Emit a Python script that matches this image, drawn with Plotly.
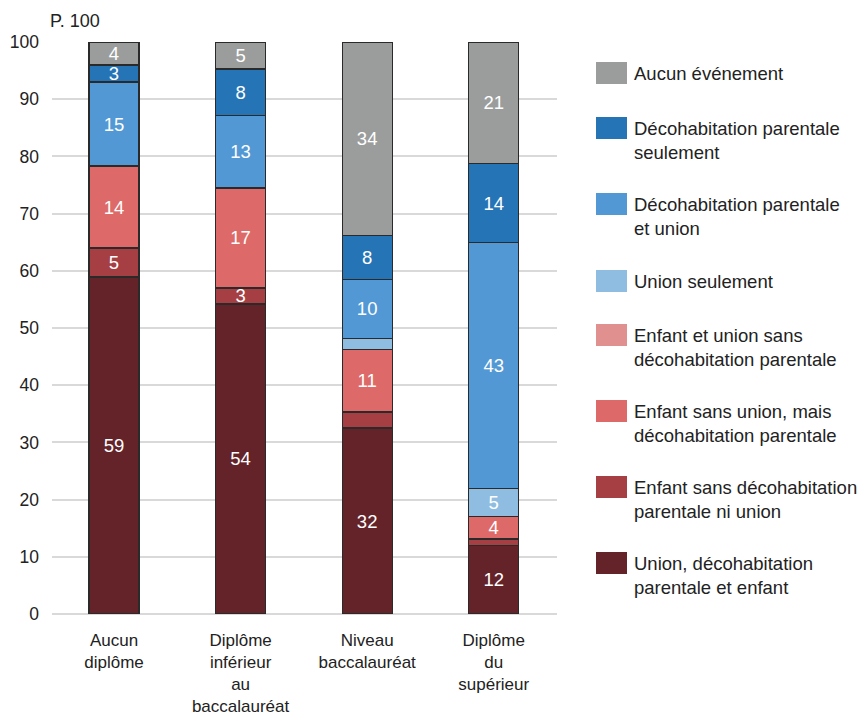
import plotly.graph_objects as go

categories = ["Aucun<br>diplôme", "Diplôme<br>inférieur<br>au<br>baccalauréat",
              "Niveau<br>baccalauréat", "Diplôme<br>du<br>supérieur"]

# series listed bottom -> top of the stack
series_names = [
    "Union, décohabitation parentale et enfant",
    "Enfant sans décohabitation parentale ni union",
    "Enfant sans union, mais décohabitation parentale",
    "Enfant et union sans décohabitation parentale",
    "Union seulement",
    "Décohabitation parentale et union",
    "Décohabitation parentale seulement",
    "Aucun événement",
]
legend_labels = [
    "Union, décohabitation<br>parentale et enfant",
    "Enfant sans décohabitation<br>parentale ni union",
    "Enfant sans union, mais<br>décohabitation parentale",
    "Enfant et union sans<br>décohabitation parentale",
    "Union seulement",
    "Décohabitation parentale<br>et union",
    "Décohabitation parentale<br>seulement",
    "Aucun événement",
]
colors = ["#632328", "#a53f43", "#dd6a68", "#e0918f",
          "#8fbde2", "#5298d4", "#2574b5", "#9b9d9d"]

union_decoh_enfant = [58.9, 54.2, 32.5, 12.0]
enfant_sans_decoh = [5.1, 2.8, 2.8, 1.1]
enfant_sans_union = [14.3, 17.5, 11.0, 4.0]
enfant_union_sans_decoh = [0, 0, 0, 0]
union_seulement = [0, 0, 1.9, 4.8]
decoh_et_union = [14.7, 12.6, 10.3, 43.0]
decoh_seulement = [3.0, 8.2, 7.7, 13.9]
aucun_evenement = [4.0, 4.7, 33.8, 21.2]

labels_union_decoh_enfant = ["59", "54", "32", "12"]
labels_enfant_sans_decoh = ["5", "3", "", ""]
labels_enfant_sans_union = ["14", "17", "11", "4"]
labels_enfant_union_sans_decoh = ["", "", "", ""]
labels_union_seulement = ["", "", "", "5"]
labels_decoh_et_union = ["15", "13", "10", "43"]
labels_decoh_seulement = ["3", "8", "8", "14"]
labels_aucun_evenement = ["4", "5", "34", "21"]

values = [union_decoh_enfant, enfant_sans_decoh, enfant_sans_union,
          enfant_union_sans_decoh, union_seulement, decoh_et_union,
          decoh_seulement, aucun_evenement]
texts = [labels_union_decoh_enfant, labels_enfant_sans_decoh,
         labels_enfant_sans_union, labels_enfant_union_sans_decoh,
         labels_union_seulement, labels_decoh_et_union,
         labels_decoh_seulement, labels_aucun_evenement]

y_ticks = [0, 10, 20, 30, 40, 50, 60, 70, 80, 90, 100]

FONT = "Liberation Sans, Arial, sans-serif"

fig = go.Figure()
for name, vals, txt, col in zip(series_names, values, texts, colors):
    fig.add_trace(go.Bar(
        x=categories, y=vals, name=name, text=txt,
        textposition="inside", insidetextanchor="middle",
        textangle=0, constraintext="none",
        textfont=dict(color="white", size=18.5, family=FONT),
        marker=dict(color=col, line=dict(color="#2a2a2a", width=1.3)),
        width=0.395, showlegend=False,
    ))

# plot area in pixels: x 52..557, y 42..614
L, R, T, B = 52, 557, 42, 614
W, H = 859, 720

def px_x(px):
    return (px - L) / (R - L)

def px_y(py):
    return (B - py) / (B - T)

shapes = []
annotations = []
box_centers = [563, 487, 411, 335, 281, 204, 128, 73]  # matches series order
for lab, col, cy in zip(legend_labels, colors, box_centers):
    shapes.append(dict(type="rect", xref="paper", yref="paper",
                       x0=px_x(596), x1=px_x(627),
                       y0=px_y(cy + 11), y1=px_y(cy - 11),
                       fillcolor=col, line=dict(width=0)))
    annotations.append(dict(xref="paper", yref="paper", x=px_x(632),
                            y=px_y(cy - 12), xanchor="left", yanchor="top",
                            text=lab, showarrow=False, align="left",
                            font=dict(size=18.5, color="#222222", family=FONT)))

annotations.append(dict(xref="paper", yref="paper", x=px_x(48), y=px_y(21),
                        xanchor="left", yanchor="middle", text="P. 100",
                        showarrow=False,
                        font=dict(size=18, color="#222222", family=FONT)))

fig.update_layout(
    barmode="stack",
    width=W, height=H,
    margin=dict(l=L, r=W - R, t=T, b=H - B, pad=0),
    plot_bgcolor="white", paper_bgcolor="white",
    font=dict(family=FONT, size=17, color="#222222"),
    shapes=shapes, annotations=annotations,
    xaxis=dict(range=[-0.49, 3.5], showgrid=False, showline=False,
               ticks="", tickfont=dict(size=17, color="#222222"),
               ticklabelstandoff=14, automargin=False),
    yaxis=dict(range=[0, 100], tickvals=y_ticks, showgrid=True,
               gridcolor="#d9d9d9", gridwidth=2, zeroline=True,
               zerolinecolor="#d9d9d9", zerolinewidth=2, showline=False,
               ticks="", ticklabelstandoff=12, automargin=False,
               tickfont=dict(size=17.5, color="#222222")),
)

fig.write_html("out.html")
